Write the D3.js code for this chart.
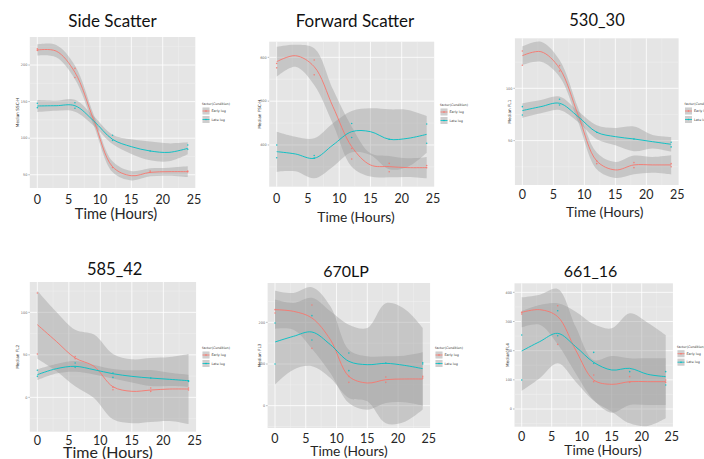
<!DOCTYPE html>
<html>
<head>
<meta charset="utf-8">
<script src="https://cdn.jsdelivr.net/npm/d3@7"></script>
<style>
  html, body { margin: 0; padding: 0; background: #ffffff; }
  svg { display: block; }
</style>
</head>
<body>
<svg id="fig" width="704" height="459"></svg>
<script>
// ---------- data ----------
const panelTitles = ["Side Scatter", "Forward Scatter", "530_30", "585_42", "670LP", "661_16"];
const yTitles = ["Median SSC-H", "Median FSC-H", "Median FL1", "Median FL2", "Median FL3", "Median FL4"];
const yTickValues = [[50, 100, 150, 200], [400, 500, 600], [50, 100], [0, 50, 100], [0, 100, 200], [0, 100, 200, 300, 400]];
const yLimits = [[31.9, 238.3], [304.8, 635.7], [7.6, 147.8], [-40.4, 135.7], [-53.6, 294.4], [-60.7, 431]];
const xTickValues = [0, 5, 10, 15, 20, 25];
const xLimits = [-1.2, 25.2];
const conditions = ["Early log", "Late log"];
const legendTitle = "factor(Condition)";
const xTitle = "Time (Hours)";

// hours at which the loess fit and its confidence half-width are listed
const fitHours = [0, 3, 6, 9, 12, 15, 18, 21, 24];

// Side scatter
const sscEarlyFit = [220.5, 219.1, 190.0, 124.8, 61.0, 48.7, 53.3, 54.2, 54.2];
const sscEarlyCI  = [7.6, 8.4, 9.4, 7.3, 7.3, 6.4, 5.5, 5.5, 7.3];
const sscLateFit  = [144.0, 144.4, 144.4, 123.5, 98.4, 88.4, 82.5, 80.6, 86.1];
const sscLateCI   = [8.2, 6.8, 8.2, 6.4, 6.4, 10.0, 12.8, 12.3, 8.2];
const sscEarlyPts = [[0, 222], [0, 220], [6, 195.4], [6, 183], [12, 60], [18, 55], [18, 53.5], [24, 55], [24, 54]];
const sscLatePts  = [[0, 147.6], [0, 141.7], [6, 148.5], [6, 141], [12, 104], [12, 97], [18, 82.5], [24, 90.7], [24, 84.7]];

// Forward scatter
const fscEarlyFit = [590.1, 603.8, 578.7, 487.5, 396.2, 354.4, 350.6, 348.3, 348.3];
const fscEarlyCI  = [34.2, 25.1, 41.8, 39.5, 45.6, 26.6, 24.3, 21.3, 24.3];
const fscLateFit  = [384.8, 379.5, 369.6, 400.0, 430.4, 430.4, 413.0, 415.2, 424.3];
const fscLateCI   = [45.6, 39.5, 45.6, 49.4, 47.1, 53.2, 68.4, 64.6, 41.8];
const fscEarlyPts = [[0, 586], [0, 576], [6, 594], [6, 560], [12, 392], [12, 368], [18, 358], [18, 339], [24, 353], [24, 348]];
const fscLatePts  = [[0, 400], [0, 371], [6, 376], [6, 370], [12, 449], [12, 417], [18, 413], [24, 448], [24, 404]];

// FL1 530/30
const fl1EarlyFit = [131.2, 135.0, 119.1, 74.5, 30.6, 22.0, 26.8, 26.8, 26.8];
const fl1EarlyCI  = [8.9, 9.6, 8.0, 6.7, 8.0, 7.6, 8.9, 7.6, 9.2];
const fl1LateFit  = [78.7, 82.5, 85.7, 72.9, 58.0, 53.8, 51.6, 49.0, 46.5];
const fl1LateCI   = [7.0, 6.4, 6.4, 5.1, 6.7, 8.3, 11.8, 6.4, 7.0];
const fl1EarlyPts = [[0, 135.7], [0, 122], [6, 121.7], [6, 116.6], [12, 30.6], [12, 28], [18, 29], [18, 24.2], [24, 28], [24, 25]];
const fl1LatePts  = [[0, 82.5], [0, 74.5], [6, 89.5], [6, 84], [12, 58], [18, 51.6], [24, 48.4], [24, 44]];

// FL2 585/42
const fl2EarlyFit = [85.5, 65.9, 46.3, 36.5, 12.5, 7.1, 8.6, 9.8, 9.8];
const fl2EarlyCI  = [40.0, 34.9, 33.3, 37.3, 38.4, 37.6, 37.6, 37.6, 41.2];
const fl2LateFit  = [26.7, 33.7, 36.5, 32.5, 27.8, 24.7, 22.7, 21.2, 19.6];
const fl2LateCI   = [6.3, 5.5, 6.3, 5.5, 5.5, 7.1, 9.4, 7.8, 7.1];
const fl2EarlyPts = [[0, 122.7], [0, 51], [6, 48], [6, 45.5], [12, 12], [12, 9], [18, 11], [18, 7], [24, 11], [24, 8.6]];
const fl2LatePts  = [[0, 31.8], [0, 24.7], [6, 40.4], [6, 35.3], [12, 28.6], [12, 23.5], [18, 22.7], [24, 19.6], [24, 18.8]];

// FL3 670LP
const fl3EarlyFit = [230.4, 226.4, 210.4, 158.4, 70.4, 54.4, 62.4, 64.0, 64.0];
const fl3EarlyCI  = [45.6, 44.0, 73.6, 80.0, 64.0, 64.0, 56.0, 56.0, 64.0];
const fl3LateFit  = [152.8, 166.4, 176.8, 146.4, 106.4, 98.4, 101.6, 96.8, 88.8];
const fl3LateCI   = [102.0, 80.0, 82.0, 80.0, 88.0, 88.0, 144.0, 136.0, 98.0];
const fl3EarlyPts = [[0, 230.4], [0, 222.4], [6, 241.6], [6, 137.6], [12, 70.4], [12, 56], [18, 68.8], [18, 56], [24, 70.4], [24, 66.4]];
const fl3LatePts  = [[0, 198.4], [0, 100], [6, 216], [6, 157.6], [12, 126.4], [12, 84], [18, 102.4], [24, 100], [24, 103]];

// FL4 661/16
const fl4EarlyFit = [331.4, 340.6, 316.6, 202.0, 99.4, 84.6, 93.7, 93.7, 93.7];
const fl4EarlyCI  = [51.4, 51.4, 94.9, 80.0, 68.6, 97.1, 80.0, 80.0, 80.0];
const fl4LateFit  = [198.9, 231.0, 259.4, 213.7, 160.0, 133.7, 139.4, 118.9, 110.9];
const fl4LateCI   = [137.0, 125.7, 102.9, 120.0, 131.4, 142.9, 188.6, 177.1, 142.9];
const fl4EarlyPts = [[0, 331.4], [0, 325.7], [6, 354], [6, 221.7], [12, 116.6], [12, 93.7], [18, 110.9], [18, 91.4], [24, 99.4], [24, 91.4]];
const fl4LatePts  = [[0, 253.7], [0, 99.4], [6, 337], [6, 251], [12, 194], [12, 156.6], [18, 128], [24, 128], [24, 82.3]];

const seriesFits = [
  [[sscEarlyFit, sscEarlyCI], [sscLateFit, sscLateCI]],
  [[fscEarlyFit, fscEarlyCI], [fscLateFit, fscLateCI]],
  [[fl1EarlyFit, fl1EarlyCI], [fl1LateFit, fl1LateCI]],
  [[fl2EarlyFit, fl2EarlyCI], [fl2LateFit, fl2LateCI]],
  [[fl3EarlyFit, fl3EarlyCI], [fl3LateFit, fl3LateCI]],
  [[fl4EarlyFit, fl4EarlyCI], [fl4LateFit, fl4LateCI]]
];
const seriesPoints = [
  [sscEarlyPts, sscLatePts],
  [fscEarlyPts, fscLatePts],
  [fl1EarlyPts, fl1LatePts],
  [fl2EarlyPts, fl2LatePts],
  [fl3EarlyPts, fl3LatePts],
  [fl4EarlyPts, fl4LatePts]
];

// ---------- layout & style ----------
const colors = ["#F8766D", "#00BFC4"];
// plot rectangle, title / axis-label anchors for each panel
const layout = [
  { x0: 29.8, x1: 195.3, y0: 37.0, y1: 188.0, titleX: 112.5, titleY: 21.0, titleSize: 17, tickY: 200.0, xlabX: 116, xlabY: 214.0, xlabSize: 14.7, ytX: 18, legX: 202, legY: 104 },
  { x0: 269.2, x1: 434.2, y0: 41.7, y1: 186.7, titleX: 355.0, titleY: 21.0, titleSize: 17, tickY: 198.3, xlabX: 356, xlabY: 216.7, xlabSize: 13.8, ytX: 260, legX: 440, legY: 105 },
  { x0: 514.9, x1: 678.6, y0: 38.3, y1: 185.0, titleX: 597.0, titleY: 20.0, titleSize: 16.5, tickY: 195.0, xlabX: 604.7, xlabY: 211.7, xlabSize: 13.8, ytX: 510, legX: 684.5, legY: 104 },
  { x0: 29.8, x1: 196.1, y0: 282.0, y1: 431.7, titleX: 114.7, titleY: 269.3, titleSize: 16.5, tickY: 440.5, xlabX: 108, xlabY: 452.3, xlabSize: 16, ytX: 18, legX: 202, legY: 348 },
  { x0: 267.6, x1: 430.1, y0: 283.0, y1: 428.0, titleX: 346.0, titleY: 271.7, titleSize: 16, tickY: 438.3, xlabX: 349, xlabY: 451.5, xlabSize: 13.8, ytX: 260, legX: 435, legY: 348 },
  { x0: 514.5, x1: 672.9, y0: 283.3, y1: 426.7, titleX: 590.5, titleY: 271.7, titleSize: 16, tickY: 436.7, xlabX: 603, xlabY: 450.5, xlabSize: 13.8, ytX: 508, legX: 677, legY: 346.7 }
];

const svg = d3.select("#fig");
const defs = svg.append("defs");
const titleFont = "Lato, 'Open Sans', sans-serif";
const smallFont = "'DejaVu Sans', sans-serif";

layout.forEach((L, i) => {
  const x = d3.scaleLinear().domain(xLimits).range([L.x0, L.x1]);
  const y = d3.scaleLinear().domain(yLimits[i]).range([L.y1, L.y0]);
  const g = svg.append("g").attr("class", "panel");

  // panel background
  g.append("rect")
    .attr("x", L.x0).attr("y", L.y0)
    .attr("width", L.x1 - L.x0).attr("height", L.y1 - L.y0)
    .attr("fill", "#E5E5E5");

  // minor grid
  const yt = yTickValues[i];
  const step = yt[1] - yt[0];
  const yMinor = d3.range(yt[0] - step / 2, yt[yt.length - 1] + step, step)
    .filter(v => v > yLimits[i][0] && v < yLimits[i][1]);
  const xMinor = [2.5, 7.5, 12.5, 17.5, 22.5];
  g.selectAll(".ymin").data(yMinor).join("line")
    .attr("x1", L.x0).attr("x2", L.x1)
    .attr("y1", d => y(d)).attr("y2", d => y(d))
    .attr("stroke", "#F0F0F0").attr("stroke-width", 0.5);
  g.selectAll(".xmin").data(xMinor).join("line")
    .attr("y1", L.y0).attr("y2", L.y1)
    .attr("x1", d => x(d)).attr("x2", d => x(d))
    .attr("stroke", "#F0F0F0").attr("stroke-width", 0.5);
  // major grid
  g.selectAll(".ymaj").data(yt).join("line")
    .attr("x1", L.x0).attr("x2", L.x1)
    .attr("y1", d => y(d)).attr("y2", d => y(d))
    .attr("stroke", "#ffffff").attr("stroke-width", 0.8);
  g.selectAll(".xmaj").data(xTickValues.filter(v => v <= 24)).join("line")
    .attr("y1", L.y0).attr("y2", L.y1)
    .attr("x1", d => x(d)).attr("x2", d => x(d))
    .attr("stroke", "#ffffff").attr("stroke-width", 0.8);

  // clipped data layer
  const clipId = "clip" + i;
  defs.append("clipPath").attr("id", clipId)
    .append("rect")
    .attr("x", L.x0).attr("y", L.y0)
    .attr("width", L.x1 - L.x0).attr("height", L.y1 - L.y0);
  const data = g.append("g").attr("clip-path", `url(#${clipId})`);

  const curve = d3.curveCatmullRom.alpha(0.5);
  const area = d3.area()
    .x(d => x(d.h)).y0(d => y(d.fit - d.ci)).y1(d => y(d.fit + d.ci))
    .curve(curve);
  const line = d3.line().x(d => x(d.h)).y(d => y(d.fit)).curve(curve);

  const rows = seriesFits[i].map(([fit, ci]) =>
    fitHours.map((h, k) => ({ h: h, fit: fit[k], ci: ci[k] })));

  // confidence ribbons first, then fitted lines and points
  rows.forEach(r => {
    data.append("path").datum(r).attr("d", area)
      .attr("fill", "#999999").attr("fill-opacity", 0.4);
  });
  rows.forEach((r, s) => {
    data.append("path").datum(r).attr("d", line)
      .attr("fill", "none").attr("stroke", colors[s]).attr("stroke-width", 0.9);
  });
  seriesPoints[i].forEach((pts, s) => {
    data.selectAll(".pt" + s).data(pts).join("circle")
      .attr("cx", d => x(d[0])).attr("cy", d => y(d[1]))
      .attr("r", 0.8).attr("fill", colors[s]).attr("fill-opacity", 0.85);
  });

  // y axis: tiny ticks and labels
  g.selectAll(".ytick").data(yt).join("line")
    .attr("x1", L.x0 - 1.5).attr("x2", L.x0)
    .attr("y1", d => y(d)).attr("y2", d => y(d))
    .attr("stroke", "#555").attr("stroke-width", 0.4);
  g.selectAll(".ylab").data(yt).join("text")
    .attr("x", L.x0 - 2.5).attr("y", d => y(d))
    .attr("dy", "0.35em").attr("text-anchor", "end")
    .attr("font-family", smallFont).attr("font-size", 3.4)
    .attr("fill", "#666").text(d => d);
  g.append("text")
    .attr("transform", `translate(${L.ytX},${(L.y0 + L.y1) / 2}) rotate(-90)`)
    .attr("text-anchor", "middle").attr("dy", "0.35em")
    .attr("font-family", smallFont).attr("font-size", 4.2)
    .attr("fill", "#333").text(yTitles[i]);

  // x axis labels (large)
  g.selectAll(".xlab").data(xTickValues).join("text")
    .attr("x", d => x(d)).attr("y", L.tickY)
    .attr("dy", "0.35em").attr("text-anchor", "middle")
    .attr("font-family", titleFont).attr("font-size", 12.5)
    .attr("fill", "#262626").text(d => d);
  g.append("text")
    .attr("x", L.xlabX).attr("y", L.xlabY).attr("dy", "0.35em")
    .attr("text-anchor", "middle")
    .attr("font-family", titleFont).attr("font-size", L.xlabSize)
    .attr("fill", "#262626").text(xTitle);

  // panel title
  g.append("text")
    .attr("x", L.titleX).attr("y", L.titleY).attr("dy", "0.35em")
    .attr("text-anchor", "middle")
    .attr("font-family", titleFont).attr("font-size", L.titleSize)
    .attr("fill", "#111").text(panelTitles[i]);

  // legend
  const lg = g.append("g").attr("transform", `translate(${L.legX},${L.legY})`);
  lg.append("text").attr("x", 0).attr("y", 0).attr("dy", "0.35em")
    .attr("font-family", smallFont).attr("font-size", 3.3)
    .attr("fill", "#333").text(legendTitle);
  conditions.forEach((c, s) => {
    const ky = 3.5 + s * 8.5;
    lg.append("rect").attr("x", 0.5).attr("y", ky)
      .attr("width", 7).attr("height", 7).attr("fill", "#F2F2F2");
    lg.append("rect").attr("x", 0.5).attr("y", ky)
      .attr("width", 7).attr("height", 7)
      .attr("fill", "#999999").attr("fill-opacity", 0.4);
    lg.append("line").attr("x1", 0.5).attr("x2", 7.5)
      .attr("y1", ky + 3.5).attr("y2", ky + 3.5)
      .attr("stroke", colors[s]).attr("stroke-width", 0.8);
    lg.append("circle").attr("cx", 4).attr("cy", ky + 3.5).attr("r", 0.8)
      .attr("fill", colors[s]);
    lg.append("text").attr("x", 9.5).attr("y", ky + 3.5).attr("dy", "0.35em")
      .attr("font-family", smallFont).attr("font-size", 3.3)
      .attr("fill", "#333").text(c);
  });
});
</script>
</body>
</html>
